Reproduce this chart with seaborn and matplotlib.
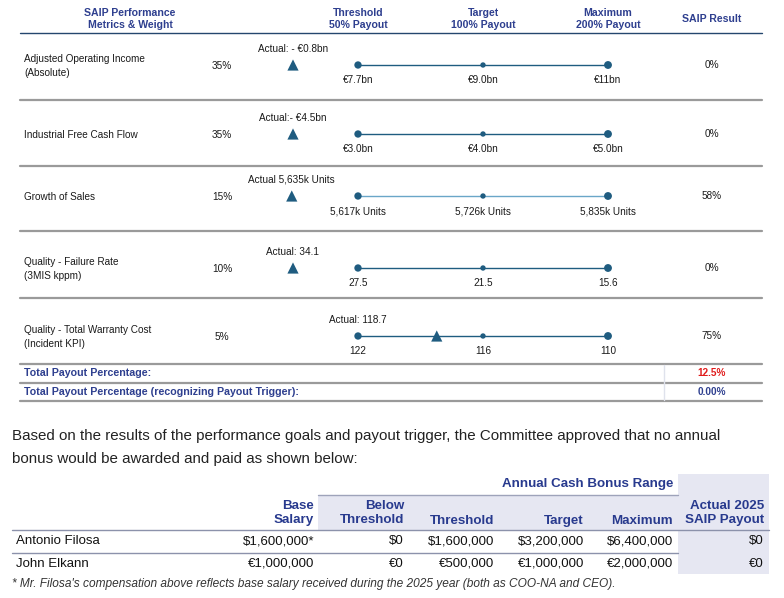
import matplotlib.pyplot as plt
import seaborn as sns
import pandas as pd
from matplotlib.patches import Rectangle

# Performance metrics (top table)
metrics = ["Adjusted Operating Income\n(Absolute)", "Industrial Free Cash Flow",
           "Growth of Sales", "Quality - Failure Rate\n(3MIS kppm)",
           "Quality - Total Warranty Cost\n(Incident KPI)"]
weights = ["35%", "35%", "15%", "10%", "5%"]
threshold_labels = ["€7.7bn", "€3.0bn", "5,617k Units", "27.5", "122"]
target_labels = ["€9.0bn", "€4.0bn", "5,726k Units", "21.5", "116"]
maximum_labels = ["€11bn", "€5.0bn", "5,835k Units", "15.6", "110"]
actual_labels = ["Actual: - €0.8bn", "Actual:- €4.5bn", "Actual 5,635k Units",
                 "Actual: 34.1", "Actual: 118.7"]
# actual on the payout scale: 0 = threshold, 1 = target, 2 = maximum
actual_pos = [-0.52, -0.52, -0.53, -0.52, 0.63]
results = ["0%", "0%", "58%", "0%", "75%"]
total_payout = "12.5%"
total_payout_trigger = "0.00%"

# Bonus table (bottom)
bonus_names = ["Antonio Filosa", "John Elkann"]
base_salary = ["$1,600,000*", "€1,000,000"]
below_threshold = ["$0", "€0"]
threshold_bonus = ["$1,600,000", "€500,000"]
target_bonus = ["$3,200,000", "€1,000,000"]
maximum_bonus = ["$6,400,000", "€2,000,000"]
actual_payout = ["$0", "€0"]

sns.set_theme(style="white")
plt.rcParams['font.family'] = ['Liberation Sans', 'DejaVu Sans']

NAVY = "#2e3f8f"
DOT = "#1f5c80"
GRAY = "#9a9a9a"

fig = plt.figure(figsize=(7.84, 5.98), dpi=100)
ax = fig.add_axes([0, 0, 1, 1])
ax.set_xlim(0, 784)
ax.set_ylim(598, 0)
ax.axis("off")

# overlay axes: x in payout-scale units (threshold at 358px, 125px per step)
ax_p = fig.add_axes([0, 0, 1, 1])
ax_p.patch.set_alpha(0)

row_y = [65, 134, 196, 268, 336]

# header
hdr = dict(color=NAVY, fontsize=7.6, fontweight="bold", ha="center", va="center")
ax.text(130, 19, "SAIP Performance\nMetrics & Weight", **hdr)
ax_p.text(0, 19, "Threshold\n50% Payout", **hdr)
ax_p.text(1, 19, "Target\n100% Payout", **hdr)
ax_p.text(2, 19, "Maximum\n200% Payout", **hdr)
ax.text(712, 19, "SAIP Result", **hdr)
ax.plot([20, 762], [33, 33], color="#24466e", lw=1)

# level dots and lines
levels = pd.DataFrame({
    "row": [r for r in range(len(metrics)) for _ in range(3)],
    "pos": [0, 1, 2] * len(metrics),
    "level": ["Threshold", "Target", "Maximum"] * len(metrics),
})
levels["y"] = levels["row"].map(lambda r: row_y[r])
for r in range(len(metrics)):
    sub = levels[levels["row"] == r]
    sns.lineplot(data=sub, x="pos", y="y", ax=ax_p, color="#6aa6c8" if r == 2 else DOT,
                 lw=1.0, legend=False)
sns.scatterplot(data=levels, x="pos", y="y", size="level",
                sizes={"Threshold": 28, "Target": 15, "Maximum": 32},
                ax=ax_p, color=DOT, edgecolor="none", legend=False, zorder=3)

actual_df = pd.DataFrame({"pos": actual_pos, "y": row_y})
sns.scatterplot(data=actual_df, x="pos", y="y", marker="^", s=65, color=DOT,
                edgecolor="none", ax=ax_p, legend=False, zorder=4)
ax_p.set_xlim(-358 / 125, (784 - 358) / 125)
ax_p.set_ylim(598, 0)
ax_p.axis("off")

txt = dict(fontsize=7.2, color="#1a1a1a", va="center")
for r, y in enumerate(row_y):
    ax.text(24, y + 1, metrics[r], ha="left", linespacing=1.5, **txt)
    ax.text(222, y + 1, weights[r], ha="center", **txt)
    lab_x = actual_pos[r] if actual_pos[r] < 0 else 0
    ax_p.text(lab_x, y - 16, actual_labels[r], ha="center", **txt)
    ax_p.text(0, y + 15, threshold_labels[r], ha="center", **txt)
    ax_p.text(1, y + 15, target_labels[r], ha="center", **txt)
    ax_p.text(2, y + 15, maximum_labels[r], ha="center", **txt)
    ax.text(712, y, results[r], ha="center", **txt)

for y in [100, 166, 231, 298, 364, 383, 401]:
    ax.plot([20, 762], [y, y], color=GRAY, lw=1.6)
ax.plot([664, 664], [365, 400], color="#dfe2ec", lw=1)

ax.text(24, 373, "Total Payout Percentage:", color=NAVY, fontsize=7.7,
        fontweight="bold", va="center")
ax.text(24, 392, "Total Payout Percentage (recognizing Payout Trigger):", color=NAVY,
        fontsize=7.7, fontweight="bold", va="center")
ax.text(712, 373, total_payout, color="#e01b1b", fontsize=7.2, fontweight="bold",
        ha="center", va="center")
ax.text(712, 392, total_payout_trigger, color=NAVY, fontsize=7.2, fontweight="bold",
        ha="center", va="center")

# paragraph
ax.text(12, 436, "Based on the results of the performance goals and payout trigger, "
        "the Committee approved that no annual", fontsize=10.9, color="#222222", va="center")
ax.text(12, 459, "bonus would be awarded and paid as shown below:", fontsize=10.9,
        color="#222222", va="center")

# bonus table
LAV = "#e6e7f2"
ax.add_patch(Rectangle((678, 474), 91, 100, color=LAV, lw=0, zorder=0))
ax.add_patch(Rectangle((318, 495), 360, 35, color=LAV, lw=0, zorder=0))
ax.plot([318, 678], [495, 495], color="#9ea3ba", lw=1)
ax.plot([12, 769], [530, 530], color="#8c92ab", lw=1)
ax.plot([12, 678], [553, 553], color="#8c92ab", lw=1)

bh = dict(color="#283a8e", fontsize=9.6, fontweight="bold", ha="right", va="center",
          linespacing=1.2)
ax.text(673, 484, "Annual Cash Bonus Range", **bh)
col_right = [314, 404, 494, 584, 673, 764]
headers = ["Base\nSalary", "Below\nThreshold", "Threshold", "Target", "Maximum",
           "Actual 2025\nSAIP Payout"]
for x, h in zip(col_right, headers):
    if "\n" in h:
        ax.text(x, 513, h, multialignment="right", **bh)
    else:
        ax.text(x, 521, h, **bh)

columns = [base_salary, below_threshold, threshold_bonus, target_bonus,
           maximum_bonus, actual_payout]
for i, (name, y) in enumerate(zip(bonus_names, [541, 564])):
    ax.text(16, y, name, fontsize=9.5, color="#111111", va="center")
    for x, col in zip(col_right, columns):
        ax.text(x, y, col[i], fontsize=9.5, color="#111111", ha="right", va="center")

ax.text(12, 584, "* Mr. Filosa's compensation above reflects base salary received during "
        "the 2025 year (both as COO-NA and CEO).", fontsize=8.6, style="italic",
        color="#333333", va="center")

fig.savefig("out.png", dpi=100)
